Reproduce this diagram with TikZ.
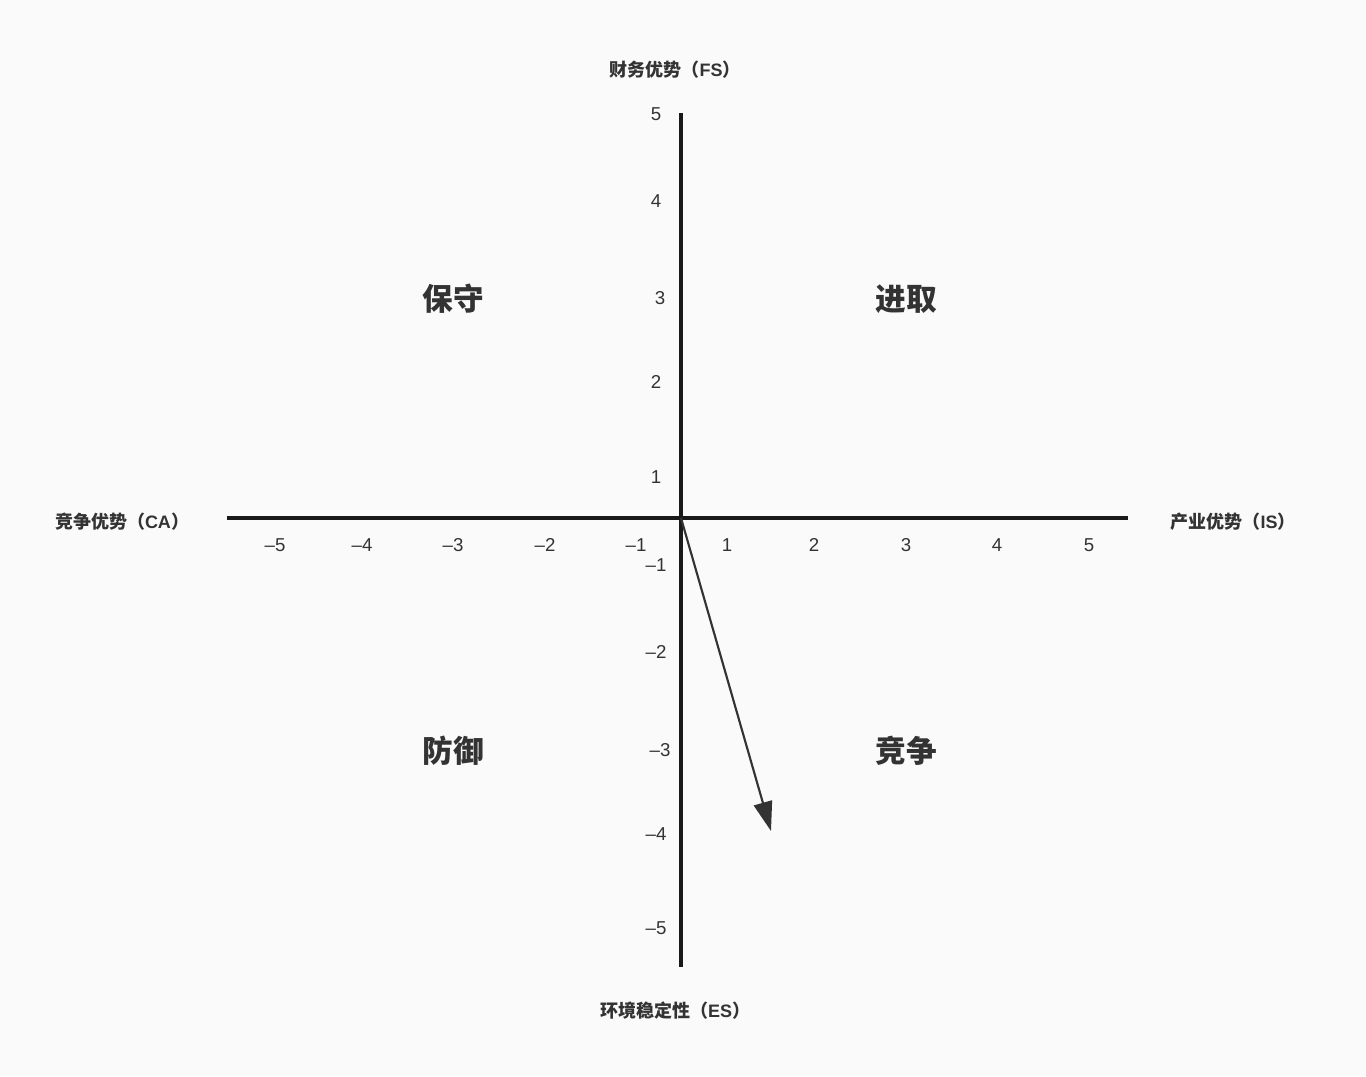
\documentclass[tikz,border=0pt]{standalone}
\usepackage{fontspec}
\setmainfont{Noto Sans CJK SC}
\newfontfamily\latinfont{Liberation Sans}
\usetikzlibrary{arrows.meta}
\definecolor{paper}{HTML}{FAFAFA}
\definecolor{ink}{HTML}{333333}
\begin{document}
\begin{tikzpicture}[x=0.75pt,y=-0.75pt,
  axis/.style={draw=black!90, line width=2.5pt},
  axislabel/.style={text=ink, font=\fontsize{13.5}{16}\selectfont\bfseries},
  ticklabel/.style={text=ink, font=\fontsize{14}{16}\latinfont},
  quadrant/.style={text=ink, font=\fontsize{23}{26}\selectfont\bfseries},
  vector/.style={draw=ink, line width=1.6pt, -{Triangle[length=22pt,width=14pt]}}]

\fill[paper] (0,0) rectangle (1366,1076);
\useasboundingbox (0,0) rectangle (1366,1076);

% axes
\coordinate (O) at (681,518);
\coordinate (left) at (227,518);
\coordinate (right) at (1128,518);
\coordinate (top) at (681,113);
\coordinate (bottom) at (681,967);
\draw[axis] (left) -- (right);
\draw[axis] (top) -- (bottom);

% axis names
\node[axislabel] (FS) at (675,70) {财务优势（{\latinfont FS}）};
\node[axislabel] (CA) at (122,522) {竞争优势（{\latinfont CA}）};
\node[axislabel] (IS) at (1233,522) {产业优势（{\latinfont IS}）};
\node[axislabel] (ES) at (675,1011) {环境稳定性（{\latinfont ES}）};

% ticks
\foreach \v/\x in {-5/275,-4/362,-3/453,-2/545,-1/636,1/727,2/814,3/906,4/997,5/1089}
  \node[ticklabel] (xt\v) at (\x,545) {\ifnum\v<0 –\fi\the\numexpr\ifnum\v<0 -\fi\v\relax};
\foreach \v/\x/\y in {5/656/114,4/656/201,3/660/298,2/656/382,1/656/477,
                      -1/656/565,-2/656/652,-3/660/750,-4/656/834,-5/656/928}
  \node[ticklabel] (yt\v) at (\x,\y) {\ifnum\v<0 –\fi\the\numexpr\ifnum\v<0 -\fi\v\relax};

% quadrants
\node[quadrant] (conservative) at (453,299) {保守};
\node[quadrant] (aggressive) at (906,299) {进取};
\node[quadrant] (defensive) at (453,751) {防御};
\node[quadrant] (competitive) at (906,751) {竞争};

% strategy vector
\coordinate (P) at (771,831);
\draw[vector] (O) -- (P);

\end{tikzpicture}
\end{document}
